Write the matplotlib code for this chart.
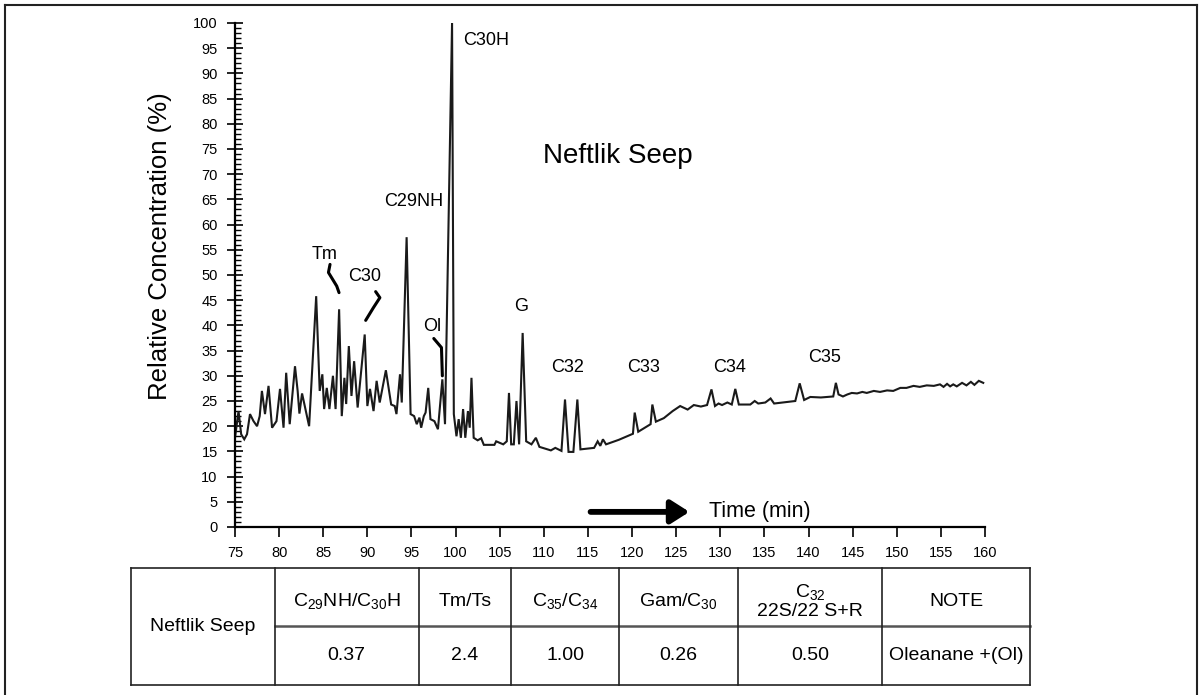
import matplotlib
matplotlib.use("Agg")
import matplotlib.pyplot as plt
from matplotlib import font_manager
from matplotlib.lines import Line2D

# ---------------- data ----------------
time_min = [75.0, 75.4, 75.7, 76.05, 76.36, 76.7, 77.1, 77.5, 77.8, 78.05, 78.4, 78.8, 79.2, 79.7,
            80.1, 80.5, 80.8, 81.2, 81.8, 82.1, 82.3, 82.6, 83.4, 84.2, 84.6, 84.9, 85.1, 85.4,
            85.7, 86.1, 86.4, 86.8, 87.1, 87.4, 87.6, 87.9, 88.2, 88.5, 88.9, 89.7, 90.0, 90.3,
            90.7, 91.05, 91.4, 92.1, 92.7, 93.1, 93.3, 93.7, 93.9, 94.45, 94.9, 95.3, 95.6, 95.9,
            96.1, 96.4, 96.6, 96.9, 97.15, 97.6, 98.0, 98.5, 98.8, 99.6, 99.8, 100.1, 100.35,
            100.6, 100.85, 101.1, 101.4, 101.6, 101.8, 102.05, 102.5, 102.9, 103.2, 104.4, 104.6,
            105.4, 105.8, 106.05, 106.3, 106.6, 106.9, 107.2, 107.6, 108.0, 108.6, 109.1, 109.5,
            110.4, 110.8, 111.3, 112.0, 112.4, 112.8, 113.35, 113.8, 114.15, 115.7, 116.1, 116.4,
            116.7, 117.05, 118.5, 120.1, 120.3, 120.7, 122.1, 122.3, 122.7, 123.6, 124.6, 125.45,
            126.3, 127.0, 127.8, 128.5, 129.0, 129.4, 129.8, 130.2, 130.8, 131.3, 131.7, 132.1,
            133.4, 133.9, 134.3, 135.1, 135.7, 136.1, 138.5, 139.0, 139.5, 140.2, 141.4, 142.8,
            143.1, 143.4, 143.9, 144.4, 144.9, 145.5, 146.1, 146.6, 147.4, 148.1, 148.9, 149.6,
            150.4, 151.1, 151.9, 152.6, 153.4, 154.2, 154.9, 155.3, 155.7, 156.05, 156.4, 156.8,
            157.4, 157.9, 158.4, 158.8, 159.3, 159.8]
rel_conc = [17.7, 23.0, 18.4, 17.4, 18.4, 22.4, 21.0, 20.0, 22.0, 27.0, 22.4, 28.0, 19.7, 21.0,
            27.4, 19.7, 30.6, 20.4, 31.9, 27.0, 22.5, 26.5, 20.0, 45.8, 27.0, 30.3, 23.4, 27.6,
            23.4, 30.0, 23.4, 43.2, 22.0, 29.6, 24.4, 35.9, 26.0, 32.9, 23.7, 38.2, 24.0, 27.4,
            23.0, 29.0, 24.7, 31.1, 24.3, 24.0, 22.4, 30.3, 24.7, 57.5, 22.4, 22.0, 20.4, 21.7,
            19.7, 22.0, 22.7, 27.6, 21.4, 21.0, 19.4, 29.3, 20.4, 100.0, 22.4, 18.0, 21.4,
            17.7, 23.4, 17.7, 23.0, 19.7, 29.6, 17.7, 17.2, 17.6, 16.3, 16.3, 17.0,
            16.4, 17.0, 26.6, 16.4, 16.4, 25.0, 16.4, 38.5, 17.0, 16.4, 17.7, 15.9,
            15.4, 15.2, 15.7, 15.1, 25.3, 14.9, 14.9, 25.3, 15.4, 15.7, 17.0, 16.1,
            17.4, 16.4, 17.3, 18.5, 22.7, 18.9, 20.4, 24.3, 20.9, 21.6, 23.0, 24.0,
            23.3, 24.2, 23.9, 24.2, 27.3, 24.0, 24.5, 24.2, 24.7, 24.3, 27.4, 24.3,
            24.3, 25.0, 24.5, 24.7, 25.5, 24.5, 25.0, 28.5, 25.2, 25.8, 25.7, 25.9,
            28.6, 26.3, 25.9, 26.3, 26.6, 26.5, 26.8, 26.6, 27.0, 26.8, 27.1, 27.0,
            27.6, 27.6, 28.0, 27.8, 28.1, 28.0, 28.3, 27.8, 28.4, 27.9, 28.3, 27.9,
            28.6, 28.1, 28.8, 28.2, 29.0, 28.6]

peak_labels = ["Tm", "C30", "C29NH", "Ol", "C30H", "G", "C32", "C33", "C34", "C35"]
peak_label_x = [85.2, 89.7, 95.3, 97.4, 103.5, 107.4, 112.7, 121.3, 131.1, 141.8]
peak_label_y = [54.0, 49.8, 64.5, 39.7, 96.6, 43.8, 31.6, 31.6, 31.7, 33.7]

x_ticks = list(range(75, 161, 5))
y_ticks = list(range(0, 101, 5))

table_header = ["C$_{29}$NH/C$_{30}$H", "Tm/Ts", "C$_{35}$/C$_{34}$", "Gam/C$_{30}$",
                "C$_{32}$\n22S/22 S+R", "NOTE"]
table_values = ["0.37", "2.4", "1.00", "0.26", "0.50", "Oleanane +(Ol)"]
sample_name = "Neftlik Seep"

# ---------------- fonts ----------------
avail = {f.name for f in font_manager.fontManager.ttflist}
main_font = "Liberation Sans" if "Liberation Sans" in avail else "DejaVu Sans"
plt.rcParams["font.family"] = [main_font, "DejaVu Sans"]
plt.rcParams["mathtext.fontset"] = "custom"
plt.rcParams["mathtext.rm"] = main_font
plt.rcParams["mathtext.it"] = main_font

W, H = 1199, 695
fig = plt.figure(figsize=(W / 100, H / 100), dpi=100)


def fx(x):
    return x / W


def fy(y):
    return 1 - y / H


# ---------------- main axes ----------------
ax_l, ax_r, ax_t, ax_b = 235, 985, 23, 527
ax = fig.add_axes([fx(ax_l), fy(ax_b), (ax_r - ax_l) / W, (ax_b - ax_t) / H])
ax.plot(time_min, rel_conc, color="#1a1a1a", lw=1.5, solid_joinstyle="miter")
ax.set_xlim(75, 160)
ax.set_ylim(0, 100)
for s in ["top", "right"]:
    ax.spines[s].set_visible(False)
ax.spines["left"].set_linewidth(1.6)
ax.spines["bottom"].set_linewidth(1.6)
ax.set_xticks(x_ticks)
ax.set_yticks(y_ticks)
ax.set_yticks(list(range(0, 101)), minor=True)
ax.tick_params(axis="x", direction="out", length=7, width=1.2, labelsize=10.5, pad=7)
ax.tick_params(axis="y", which="major", direction="inout", length=11, width=1.2,
               labelsize=10.5, pad=7)
ax.tick_params(axis="y", which="minor", direction="in", length=4, width=1.0)
ax.tick_params(axis="x", which="minor", bottom=False)
ax.set_ylabel("Relative Concentration (%)", fontsize=18.5)
ax.yaxis.set_label_coords((172 - ax_l) / (ax_r - ax_l), (ax_b - 246) / (ax_b - ax_t))

# peak labels
for name, lx, ly in zip(peak_labels, peak_label_x, peak_label_y):
    ax.text(lx, ly, name, fontsize=13, ha="center", va="center")

# pointer squiggles
ax.plot([85.77, 85.59, 86.53, 86.79], [52.1, 50.5, 47.8, 46.5], color="black", lw=2.2,
        solid_capstyle="round")
ax.plot([90.94, 91.42, 90.68, 89.81], [46.7, 45.5, 43.5, 41.0], color="black", lw=2.2,
        solid_capstyle="round")
ax.plot([97.53, 98.4, 98.5], [37.4, 35.6, 30.0], color="black", lw=2.2,
        solid_capstyle="round")

ax.text(118.4, 73.6, "Neftlik Seep", fontsize=20, ha="center", va="center")

# time arrow
ax.annotate("", xy=(126.5, 3.0), xytext=(115.3, 3.0),
            arrowprops=dict(arrowstyle="-|>,head_length=1.1,head_width=0.7", lw=4.2,
                            color="black", shrinkA=0, shrinkB=0))
ax.text(128.7, 3.0, "Time (min)", fontsize=15.5, ha="left", va="center")

# ---------------- table ----------------
t_left, t_right, t_top, t_mid, t_bot = 131, 1030, 568, 626, 685
cols = [131, 274.5, 418.6, 511, 619, 738, 882, 1030]
lc = "#222222"


def hline(x0, x1, y, lw=1.2, color=lc):
    fig.add_artist(Line2D([fx(x0), fx(x1)], [fy(y), fy(y)], color=color, lw=lw))


def vline(x, y0, y1, lw=1.2, color=lc):
    fig.add_artist(Line2D([fx(x), fx(x)], [fy(y0), fy(y1)], color=color, lw=lw))


hline(t_left, t_right, t_top)
hline(t_left, t_right, t_bot)
hline(cols[1], t_right, t_mid, lw=1.8, color="#555555")
for c in cols:
    vline(c, t_top, t_bot)

fs_tab = 14
fig.text(fx((cols[0] + cols[1]) / 2), fy((t_top + t_bot) / 2), sample_name,
         fontsize=fs_tab, ha="center", va="center")
for i in range(6):
    cx = (cols[i + 1] + cols[i + 2]) / 2
    fig.text(fx(cx), fy(601), table_header[i], fontsize=fs_tab,
             ha="center", va="center", linespacing=1.05)
    fig.text(fx(cx), fy(655), table_values[i], fontsize=fs_tab,
             ha="center", va="center")

# ---------------- outer frame ----------------
vline(5, 5, 695, lw=1.5)
vline(1197, 5, 695, lw=1.5)
hline(5, 1197, 5, lw=1.5)

fig.savefig("out.png", dpi=100)
